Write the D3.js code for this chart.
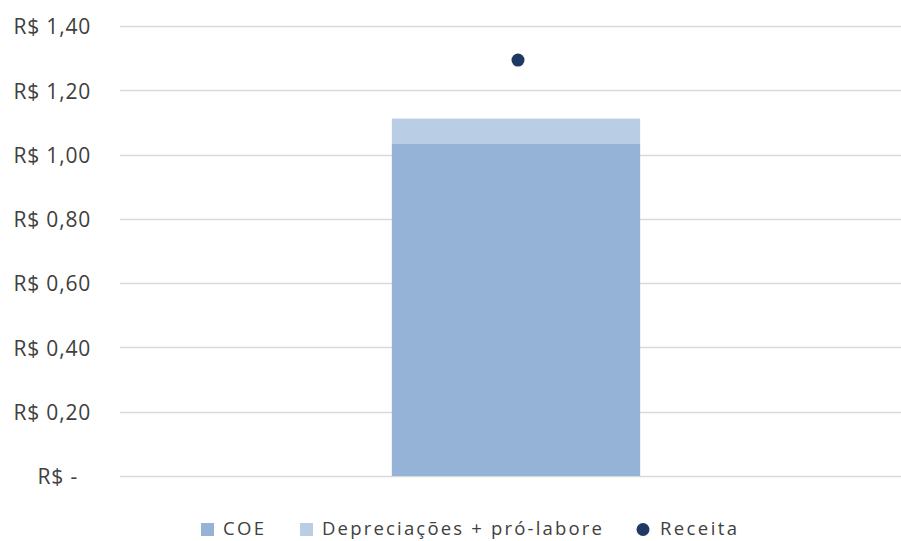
<!DOCTYPE html>
<html>
<head>
<meta charset="utf-8">
<script src="https://cdn.jsdelivr.net/npm/d3@7"></script>
<style>
  body { margin: 0; background: #fff; }
  text { font-family: "Open Sans", sans-serif; fill: #404040; }
</style>
</head>
<body>
<div id="chart"></div>
<script>
// Daten
const categories = ["Custo"];
const coe = [1.033];
const depreciacoes = [0.079];
const receita = [1.294];
const yTicks = [0, 0.2, 0.4, 0.6, 0.8, 1.0, 1.2, 1.4];
const legendItems = [
  { label: "COE", color: "#95b3d7", shape: "rect", x: 201, tx: 223, len: 41 },
  { label: "Depreciações + pró-labore", color: "#b9cde5", shape: "rect", x: 300, tx: 322, len: 280 },
  { label: "Receita", color: "#1f3864", shape: "circle", x: 636, tx: 660, len: 77 }
];

const width = 901;
const height = 541;

const svg = d3.select("#chart")
  .append("svg")
  .attr("width", width)
  .attr("height", height);

const x = d3.scaleBand()
  .domain(categories)
  .range([125, 907])
  .padding(0.518);

const y = d3.scaleLinear()
  .domain([0, 1.4])
  .range([476, 26]);

// Gitterlinien
svg.append("g")
  .selectAll("line")
  .data(yTicks)
  .enter()
  .append("line")
  .attr("x1", 120)
  .attr("x2", 901)
  .attr("y1", d => Math.round(y(d)) + 0.5)
  .attr("y2", d => Math.round(y(d)) + 0.5)
  .attr("stroke", "#d9d9d9")
  .attr("stroke-width", 1.5);

// Y-Achse Beschriftung
const fmt = d => d === 0 ? "R$ -" : "R$ " + d.toFixed(2).replace(".", ",");
svg.append("g")
  .selectAll("text")
  .data(yTicks)
  .enter()
  .append("text")
  .attr("x", d => d === 0 ? 78 : 91)
  .attr("y", d => y(d) + 1)
  .attr("dy", "0.35em")
  .attr("text-anchor", "end")
  .attr("font-size", 21)
  .attr("letter-spacing", 0.8)
  .text(fmt);

// Balken
svg.selectAll(".coe")
  .data(categories)
  .enter()
  .append("rect")
  .attr("x", d => x(d))
  .attr("width", x.bandwidth())
  .attr("y", (d, i) => y(coe[i]))
  .attr("height", (d, i) => y(0) - y(coe[i]))
  .attr("fill", "#95b3d7");

svg.selectAll(".dep")
  .data(categories)
  .enter()
  .append("rect")
  .attr("x", d => x(d))
  .attr("width", x.bandwidth())
  .attr("y", (d, i) => y(coe[i] + depreciacoes[i]))
  .attr("height", (d, i) => y(coe[i]) - y(coe[i] + depreciacoes[i]))
  .attr("fill", "#b9cde5");

// Receita Punkt
svg.selectAll(".rec")
  .data(categories)
  .enter()
  .append("circle")
  .attr("cx", d => x(d) + x.bandwidth() / 2 + 2)
  .attr("cy", (d, i) => y(receita[i]))
  .attr("r", 6.5)
  .attr("fill", "#1f3864");

// Legende
const legend = svg.append("g").attr("transform", "translate(0,529)");
legendItems.forEach(d => {
  if (d.shape === "rect") {
    legend.append("rect").attr("x", d.x).attr("y", -6).attr("width", 13).attr("height", 13).attr("fill", d.color);
  } else {
    legend.append("circle").attr("cx", d.x + 7).attr("cy", 0.5).attr("r", 6.5).attr("fill", d.color);
  }
  legend.append("text")
    .attr("x", d.tx)
    .attr("y", 6)
    .attr("font-size", 18.5)
    .attr("textLength", d.len)
    .attr("lengthAdjust", "spacing")
    .text(d.label);
});
</script>
</body>
</html>
